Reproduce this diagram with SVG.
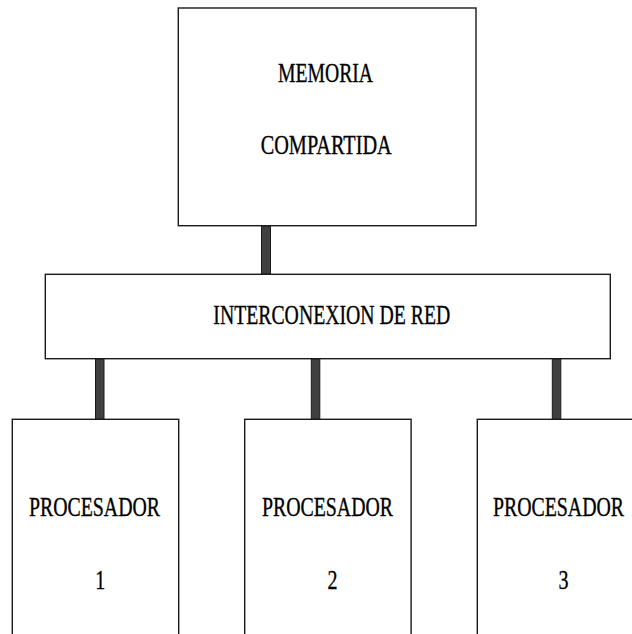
<svg xmlns="http://www.w3.org/2000/svg" width="632" height="634" viewBox="0 0 632 634">
  <style>
    .box { fill: #ffffff; stroke: #1a1a1a; stroke-width: 1.4; }
    .bar { fill: #404040; stroke: #1a1a1a; stroke-width: 1; }
    .lbl { font-family: "Liberation Serif", "Times New Roman", serif; font-size: 27.5px; fill: #000000; stroke: #000000; stroke-width: 0.35; }
  </style>
  <rect width="632" height="634" fill="#ffffff"/>

  <!-- connectors: thick bars between the memory, the network and the processors -->
  <g id="connectors">
    <rect class="bar" x="261.5" y="225.7" width="9" height="48.6"/>
    <rect class="bar" x="95.5" y="358.7" width="8.5" height="60.6"/>
    <rect class="bar" x="311.3" y="358.7" width="8.5" height="60.6"/>
    <rect class="bar" x="552.3" y="358.7" width="8.5" height="60.6"/>
  </g>

  <g id="memoria">
    <rect class="box" x="178.3" y="8" width="297.7" height="217.7"/>
    <text class="lbl" x="278" y="82" textLength="95" lengthAdjust="spacingAndGlyphs">MEMORIA</text>
    <text class="lbl" x="260.7" y="154" textLength="131" lengthAdjust="spacingAndGlyphs">COMPARTIDA</text>
  </g>

  <g id="interconexion">
    <rect class="box" x="45.3" y="274.3" width="565" height="84.4"/>
    <text class="lbl" x="213.3" y="323.5" textLength="237" lengthAdjust="spacingAndGlyphs">INTERCONEXION DE RED</text>
  </g>

  <!-- processor boxes run past the bottom edge, so no bottom border shows -->
  <g id="procesador1">
    <rect class="box" x="12.3" y="419.3" width="166.4" height="230"/>
    <text class="lbl" x="29" y="516" textLength="131" lengthAdjust="spacingAndGlyphs">PROCESADOR</text>
    <text class="lbl" x="95.3" y="589" textLength="10" lengthAdjust="spacingAndGlyphs">1</text>
  </g>

  <g id="procesador2">
    <rect class="box" x="244.7" y="419.3" width="166.4" height="230"/>
    <text class="lbl" x="262" y="515.5" textLength="131" lengthAdjust="spacingAndGlyphs">PROCESADOR</text>
    <text class="lbl" x="327.5" y="589" textLength="10" lengthAdjust="spacingAndGlyphs">2</text>
  </g>

  <g id="procesador3">
    <rect class="box" x="477.3" y="419.3" width="166.4" height="230"/>
    <text class="lbl" x="493" y="516" textLength="131" lengthAdjust="spacingAndGlyphs">PROCESADOR</text>
    <text class="lbl" x="558.5" y="589" textLength="10" lengthAdjust="spacingAndGlyphs">3</text>
  </g>
</svg>
